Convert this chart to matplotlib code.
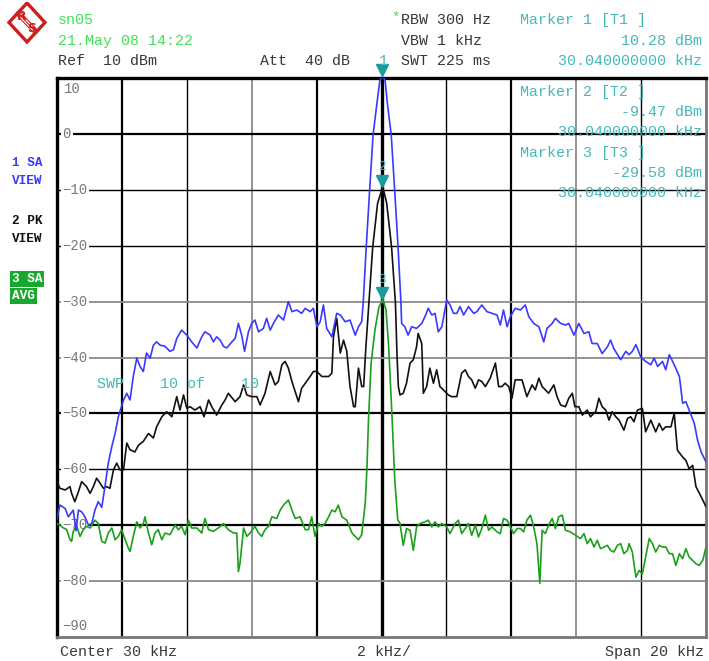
import numpy as np
import matplotlib
matplotlib.use('Agg')
import matplotlib.pyplot as plt
from matplotlib.patches import Polygon
from matplotlib.transforms import offset_copy

# trace 1: SA VIEW (blue)
f_blue = [20.00, 20.09, 20.25, 20.35, 20.50, 20.59, 20.66, 20.76, 20.86, 20.97, 21.07, 21.17,
          21.27, 21.38, 21.48, 21.58, 21.69, 21.79, 21.89, 22.05, 22.15, 22.25, 22.35, 22.46,
          22.56, 22.66, 22.76, 22.87, 22.97, 23.07, 23.18, 23.33, 23.48, 23.59, 23.69, 23.84,
          24.00, 24.15, 24.31, 24.46, 24.56, 24.72, 24.82, 24.92, 25.03, 25.13, 25.23, 25.39,
          25.49, 25.59, 25.69, 25.78, 25.90, 26.00, 26.10, 26.21, 26.36, 26.46, 26.57, 26.67,
          26.82, 26.98, 27.13, 27.24, 27.39, 27.54, 27.65, 27.80, 27.90, 28.01, 28.11, 28.21,
          28.31, 28.47, 28.62, 28.73, 28.88, 29.03, 29.19, 29.29, 29.39,
          29.435, 29.53, 29.635, 29.74, 29.86, 29.95, 30.04, 30.11, 30.18, 30.30, 30.405, 30.51, 30.60,
          30.62, 30.72, 30.82, 30.93, 31.08, 31.24, 31.34, 31.44, 31.55, 31.65, 31.75, 31.86,
          32.01, 32.11, 32.22, 32.32, 32.42, 32.53, 32.68, 32.84, 32.94, 33.09, 33.25, 33.40,
          33.56, 33.66, 33.76, 33.87, 33.97, 34.12, 34.28, 34.43, 34.54, 34.69, 34.85, 35.00,
          35.10, 35.26, 35.36, 35.52, 35.67, 35.77, 35.93, 36.08, 36.24, 36.39, 36.49, 36.65,
          36.80, 36.96, 37.06, 37.16, 37.37, 37.53, 37.63, 37.73, 37.84, 37.99, 38.14, 38.30,
          38.40, 38.51, 38.66, 38.76, 38.87, 39.02, 39.18, 39.28, 39.38, 39.48, 39.64, 39.74,
          39.85, 40.00]
lvl_blue = [-68.8, -66.4, -67.0, -68.5, -67.3, -71.0, -67.3, -67.6, -68.5, -70.0, -69.7, -67.3,
            -65.8, -66.8, -63.0, -58.9, -55.9, -53.6, -50.6, -47.6, -46.4, -47.6, -43.4, -40.1,
            -41.6, -42.5, -39.2, -40.1, -37.8, -37.2, -37.8, -38.0, -38.9, -38.6, -36.6, -35.1,
            -36.0, -37.2, -38.3, -36.3, -35.4, -36.0, -37.2, -36.3, -36.9, -38.0, -38.3, -37.2,
            -36.6, -33.9, -36.0, -38.9, -35.4, -33.9, -33.3, -35.4, -34.8, -33.0, -35.1, -33.9,
            -32.4, -33.3, -30.0, -31.8, -31.5, -32.1, -31.2, -31.8, -31.2, -34.5, -33.6, -30.6,
            -34.8, -36.3, -32.1, -32.4, -33.6, -33.3, -36.0, -34.5, -33.6,
            -30.3, -20.2, -10.0, -0.2, 5.5, 9.6, 10.28, 9.6, 5.5, -0.2, -10.0, -20.2, -30.3,
            -33.9, -34.5, -36.0, -34.5, -34.8, -33.9, -32.7, -31.2, -32.4, -32.1, -35.4, -34.5,
            -29.7, -30.6, -32.1, -32.1, -30.9, -32.4, -30.9, -32.1, -31.8, -30.6, -31.8, -32.1,
            -32.4, -34.2, -31.5, -34.5, -32.7, -31.2, -31.5, -30.6, -32.7, -33.9, -34.5, -37.2,
            -34.8, -33.9, -33.0, -33.9, -34.2, -33.9, -36.0, -33.9, -35.7, -35.4, -37.5, -37.5,
            -39.3, -38.1, -36.9, -38.4, -40.4, -38.9, -39.5, -38.9, -37.7, -39.9, -40.7, -41.3,
            -40.1, -41.6, -40.7, -42.2, -39.5, -41.3, -43.4, -48.2, -47.9, -49.4, -51.8, -54.8,
            -56.9, -58.7]

# trace 2: PK VIEW (black)
f_black = [20.00, 20.09, 20.25, 20.40, 20.45, 20.55, 20.66, 20.76, 20.91, 21.02, 21.12, 21.22,
           21.33, 21.43, 21.53, 21.63, 21.74, 21.84, 21.94, 22.05, 22.15, 22.25, 22.40, 22.51,
           22.66, 22.82, 22.97, 23.07, 23.23, 23.38, 23.54, 23.69, 23.79, 23.90, 24.00, 24.10,
           24.25, 24.41, 24.53, 24.67, 24.77, 24.92, 25.08, 25.18, 25.28, 25.49, 25.64, 25.75,
           25.85, 26.00, 26.16, 26.26, 26.41, 26.57, 26.72, 26.82, 26.93, 27.03, 27.13, 27.24,
           27.34, 27.44, 27.54, 27.65, 27.80, 27.90, 28.01, 28.16, 28.37, 28.47, 28.52, 28.62,
           28.73, 28.83, 28.93, 29.03, 29.14, 29.19, 29.29, 29.39, 29.45,
           29.52, 29.61, 29.73, 29.88, 30.04, 30.16, 30.31, 30.43, 30.48,
           30.52, 30.57, 30.67, 30.77, 30.88, 30.98, 31.08, 31.13, 31.24, 31.29, 31.39, 31.49,
           31.60, 31.70, 31.80, 31.96, 32.06, 32.16, 32.32, 32.47, 32.58, 32.68, 32.78, 32.89,
           32.99, 33.09, 33.20, 33.35, 33.51, 33.61, 33.71, 33.81, 33.92, 34.02, 34.12, 34.23,
           34.33, 34.48, 34.64, 34.74, 34.85, 34.95, 35.05, 35.15, 35.31, 35.41, 35.52, 35.67,
           35.77, 35.88, 35.96, 36.08, 36.19, 36.34, 36.44, 36.60, 36.70, 36.80, 36.91, 37.01,
           37.11, 37.22, 37.32, 37.47, 37.58, 37.68, 37.78, 37.89, 38.04, 38.14, 38.30, 38.45,
           38.56, 38.66, 38.76, 38.92, 39.02, 39.12, 39.28, 39.38, 39.48, 39.59, 39.69, 39.85,
           40.00]
lvl_black = [-62.2, -63.4, -63.7, -63.1, -64.3, -65.8, -64.0, -62.2, -63.1, -64.3, -63.1, -61.6,
             -62.5, -63.4, -63.1, -63.4, -60.1, -58.9, -60.1, -60.1, -55.3, -56.5, -56.9, -55.7,
             -55.0, -53.6, -54.4, -52.4, -50.6, -49.7, -50.6, -47.0, -49.4, -46.7, -49.1, -48.8,
             -49.4, -48.8, -50.6, -47.6, -48.8, -50.3, -48.5, -47.6, -46.4, -47.9, -47.0, -44.9,
             -46.7, -47.0, -47.0, -48.5, -46.4, -42.5, -44.9, -44.3, -41.3, -40.7, -41.9, -44.3,
             -46.1, -47.9, -45.5, -44.6, -43.4, -42.5, -42.5, -43.4, -43.4, -42.8, -36.3, -33.0,
             -39.2, -36.9, -38.9, -45.2, -48.8, -48.8, -41.9, -45.2, -45.2,
             -38.0, -30.3, -20.2, -12.4, -9.47, -12.4, -20.2, -30.3, -40.0,
             -45.2, -46.7, -46.4, -44.6, -41.0, -40.4, -38.1, -35.7, -37.5, -46.4, -45.2, -41.9,
             -44.6, -42.2, -45.2, -46.1, -46.7, -47.0, -47.0, -42.8, -42.2, -43.4, -44.0, -45.5,
             -44.0, -44.3, -45.2, -43.7, -41.0, -45.2, -45.2, -44.6, -45.2, -47.3, -44.0, -44.0,
             -44.0, -47.0, -44.9, -45.8, -43.7, -45.2, -45.8, -46.4, -44.9, -47.0, -48.5, -48.8,
             -47.3, -46.4, -48.8, -48.8, -50.3, -49.4, -50.6, -49.7, -47.3, -48.8, -49.4, -51.2,
             -49.7, -50.6, -51.2, -53.0, -50.9, -50.6, -51.5, -49.4, -49.1, -53.3, -51.2, -53.3,
             -51.8, -53.0, -52.4, -52.4, -50.0, -56.6, -57.8, -58.4, -59.9, -59.3, -63.1, -64.9,
             -66.7]

# trace 3: SA AVG (green)
f_green = [20.00, 20.09, 20.20, 20.30, 20.40, 20.45, 20.50, 20.61, 20.71, 20.81, 20.91, 21.02,
           21.17, 21.27, 21.38, 21.48, 21.58, 21.69, 21.79, 21.89, 21.99, 22.10, 22.20, 22.25,
           22.35, 22.46, 22.56, 22.66, 22.71, 22.82, 22.92, 23.02, 23.12, 23.23, 23.33, 23.48,
           23.64, 23.74, 23.84, 23.95, 24.05, 24.15, 24.31, 24.46, 24.56, 24.67, 24.82, 24.97,
           25.13, 25.28, 25.44, 25.54, 25.59, 25.64, 25.75, 25.85, 25.95, 26.10, 26.21, 26.31,
           26.41, 26.52, 26.62, 26.77, 26.88, 26.98, 27.13, 27.24, 27.34, 27.49, 27.65, 27.75,
           27.85, 27.95, 28.06, 28.16, 28.26, 28.37, 28.47, 28.57, 28.67, 28.78, 28.93, 29.09,
           29.19, 29.29, 29.39,
           29.50, 29.55, 29.60, 29.68, 29.80, 29.92, 30.04, 30.14, 30.22, 30.32, 30.41, 30.50,
           30.57, 30.67, 30.77, 30.88, 30.98, 31.08, 31.19, 31.34, 31.44, 31.55, 31.65, 31.75,
           31.86, 32.01, 32.11, 32.27, 32.37, 32.47, 32.58, 32.68, 32.78, 32.89, 32.99, 33.09,
           33.20, 33.30, 33.40, 33.56, 33.66, 33.76, 33.87, 33.97, 34.07, 34.18, 34.28, 34.38,
           34.48, 34.59, 34.69, 34.79, 34.88, 34.95, 35.05, 35.15, 35.26, 35.36, 35.46, 35.57,
           35.67, 35.82, 35.98, 36.13, 36.24, 36.34, 36.44, 36.55, 36.65, 36.75, 36.86, 36.96,
           37.06, 37.16, 37.27, 37.37, 37.47, 37.58, 37.63, 37.73, 37.84, 37.94, 38.04, 38.14,
           38.25, 38.35, 38.45, 38.56, 38.66, 38.76, 38.87, 38.97, 39.07, 39.18, 39.28, 39.38,
           39.48, 39.59, 39.69, 39.79, 39.90, 40.00]
lvl_green = [-69.7, -70.0, -70.5, -70.8, -72.6, -72.9, -71.1, -70.2, -72.0, -70.8, -70.2, -70.5,
             -69.1, -69.7, -72.9, -73.2, -71.4, -70.5, -72.6, -72.0, -70.8, -72.6, -74.1, -74.7,
             -72.0, -69.4, -70.5, -69.7, -68.5, -71.4, -73.5, -71.4, -70.8, -72.6, -71.4, -71.7,
             -70.0, -70.8, -70.2, -71.7, -69.1, -70.5, -70.5, -71.4, -68.8, -70.8, -71.1, -70.5,
             -69.7, -70.8, -71.4, -71.4, -78.3, -76.8, -70.5, -72.0, -71.4, -70.2, -71.4, -72.0,
             -70.8, -70.2, -68.5, -68.8, -67.3, -66.4, -65.5, -67.3, -68.8, -68.5, -70.8, -70.8,
             -68.5, -72.0, -69.7, -70.2, -69.7, -68.5, -67.3, -67.6, -66.4, -68.5, -69.1, -71.4,
             -72.0, -72.6, -71.7,
             -66.0, -60.0, -51.0, -41.0, -35.0, -31.0, -29.58, -31.5, -38.0, -50.0, -62.0, -69.0,
             -69.7, -73.6, -70.6, -70.9, -74.5, -70.3, -69.7, -69.4, -69.1, -70.3, -69.4, -70.3,
             -69.7, -70.3, -71.5, -69.7, -69.1, -71.5, -70.6, -69.7, -71.8, -70.0, -72.1, -70.6,
             -68.2, -70.9, -70.3, -71.2, -71.5, -68.8, -69.1, -70.3, -71.5, -70.6, -70.6, -71.2,
             -69.1, -68.2, -70.3, -73.3, -80.4, -70.9, -71.5, -70.0, -68.8, -70.6, -68.5, -68.2,
             -70.9, -71.2, -71.8, -72.4, -71.5, -73.3, -72.4, -73.9, -72.7, -74.2, -73.9, -73.6,
             -74.5, -74.8, -73.6, -73.3, -75.1, -74.5, -73.3, -74.8, -79.3, -78.1, -78.7, -75.7,
             -72.4, -73.3, -74.8, -73.6, -73.9, -73.9, -75.1, -75.1, -77.2, -75.1, -76.0, -74.2,
             -75.7, -76.3, -76.9, -77.2, -76.3, -73.9]

marker_freq = 30.04
marker_lvl = [10.28, -9.47, -29.58]
y_ticks = [0, -10, -20, -30, -40, -50, -60, -70, -80]

W, H = 709, 661
MONO = 'Liberation Mono'
TEAL = '#45b8b8'
GREEN_TXT = '#44e05a'
DARK = '#383838'

fig = plt.figure(figsize=(W / 100, H / 100), dpi=100)
fig.patch.set_facecolor('white')


def ftext(x, y, s, **kw):
    kw.setdefault('family', MONO)
    kw.setdefault('fontsize', 10.8)
    kw.setdefault('va', 'center')
    return fig.text(x / W, 1 - y / H, s, **kw)


ax = fig.add_axes([57 / W, 1 - 637 / H, 649 / W, 559 / H])
ax.set_xlim(20, 40)
ax.set_ylim(-90, 10)
ax.set_xticks([])
ax.set_yticks([])

# grid, drawn with the uneven weights seen on the analyser screen
vgrid = [(22, 'k', 1.6), (24, 'k', 1.0), (26, '#8a8a8a', 1.3), (28, 'k', 1.6),
         (30, 'k', 2.4), (32, 'k', 1.0), (34, 'k', 1.6), (36, '#8a8a8a', 1.3), (38, 'k', 1.0)]
hgrid = [(0, 'k', 1.6), (-10, 'k', 1.0), (-20, 'k', 1.0), (-30, '#8a8a8a', 1.3),
         (-40, '#8a8a8a', 1.3), (-50, 'k', 1.6), (-60, 'k', 1.0), (-70, 'k', 1.6),
         (-80, '#8a8a8a', 1.3)]
for x, c, lw in vgrid:
    ax.axvline(x, color=c, lw=lw, zorder=1)
for y, c, lw in hgrid:
    ax.axhline(y, color=c, lw=lw, zorder=1)

for sp in ['top', 'left']:
    ax.spines[sp].set_linewidth(2.4)
    ax.spines[sp].set_color('k')
for sp in ['bottom', 'right']:
    ax.spines[sp].set_linewidth(2.0)
    ax.spines[sp].set_color('#777777')

# level labels inside the graticule
ax.text(20.2, 8.0, '10', family=MONO, fontsize=10, color='#777777', va='center', zorder=3)
ax.text(20.17, -88.0, '\u221290', family=MONO, fontsize=10, color='#777777', va='center', zorder=3)
for v in y_ticks:
    lab = str(v).replace('-', '\u2212')
    ax.text(20.17, v, lab, family=MONO, fontsize=10, color='#777777', va='center', zorder=3,
            bbox=dict(boxstyle='square,pad=0.12', fc='white', ec='none'))

ax.plot(f_green, lvl_green, color='#1aa01a', lw=1.2, zorder=4)
ax.plot(f_black, lvl_black, color='#111111', lw=1.2, zorder=5)
ax.plot(f_blue, lvl_blue, color='#3a3aff', lw=1.2, zorder=6)

# marker triangles
tri_tr = offset_copy(ax.transData, fig=fig, x=0, y=4.5, units='points')
lab_tr = offset_copy(ax.transData, fig=fig, x=0, y=14, units='points')
for i, lv in enumerate(marker_lvl):
    ax.plot([marker_freq - 0.04], [lv], marker='v', ms=8, color='#1a9a9a', ls='none',
            transform=tri_tr, clip_on=False, zorder=8)
    if i > 0:
        ax.text(marker_freq - 0.04, lv, str(i + 1), transform=lab_tr, family=MONO,
                fontsize=9, color=TEAL, ha='center', va='center', zorder=8)

# header
ftext(58, 20, 'sn05', color=GREEN_TXT)
ftext(58, 41, '21.May 08 14:22', color=GREEN_TXT)
ftext(58, 61, 'Ref  10 dBm', color=DARK)
ftext(260, 61, 'Att  40 dB', color=DARK)
ftext(391, 18, '*', color=GREEN_TXT, fontsize=10)
ftext(401, 20, 'RBW 300 Hz', color=DARK)
ftext(401, 41, 'VBW 1 kHz', color=DARK)
ftext(379, 61, '1', color=TEAL)
ftext(401, 61, 'SWT 225 ms', color=DARK)
ftext(520, 20, 'Marker 1 [T1 ]', color=TEAL)
ftext(702, 41, '10.28 dBm', color=TEAL, ha='right')
ftext(702, 61, '30.040000000 kHz', color=TEAL, ha='right')

# marker readouts inside the graticule
ftext(520, 92, 'Marker 2 [T2 ]', color=TEAL, zorder=9)
ftext(702, 112, '-9.47 dBm', color=TEAL, ha='right', zorder=9)
ftext(702, 132, '30.040000000 kHz', color=TEAL, ha='right', zorder=9)
ftext(520, 153, 'Marker 3 [T3 ]', color=TEAL, zorder=9)
ftext(702, 173, '-29.58 dBm', color=TEAL, ha='right', zorder=9)
ftext(702, 193, '30.040000000 kHz', color=TEAL, ha='right', zorder=9)
ftext(97, 384, 'SWP    10 of    10', color=TEAL, zorder=9)

# trace labels on the left
ftext(12, 163, '1 SA', color='#3a3aff', fontsize=9.2, weight='bold')
ftext(12, 181, 'VIEW', color='#3a3aff', fontsize=9.2, weight='bold')
ftext(12, 221, '2 PK', color='#111111', fontsize=9.2, weight='bold')
ftext(12, 239, 'VIEW', color='#111111', fontsize=9.2, weight='bold')
ftext(12, 279, '3 SA', color='white', fontsize=9.2, weight='bold',
      bbox=dict(boxstyle='square,pad=0.15', fc='#18a830', ec='none'))
ftext(12, 296, 'AVG', color='white', fontsize=9.2, weight='bold',
      bbox=dict(boxstyle='square,pad=0.15', fc='#18a830', ec='none'))

# footer
ftext(60, 652, 'Center 30 kHz', color=DARK)
ftext(384, 652, '2 kHz/', color=DARK, ha='center')
ftext(704, 652, 'Span 20 kHz', color=DARK, ha='right')

# R&S logo
lax = fig.add_axes([6 / W, 1 - 46 / H, 42 / W, 44 / H])
lax.set_xlim(6, 48)
lax.set_ylim(46, 2)
lax.axis('off')
red = '#cc2020'
lax.add_patch(Polygon([(27, 3), (45, 22.5), (27, 42), (9, 22.5)], closed=True,
                      fc='white', ec=red, lw=2.4))
for d in (-1.6, 0, 1.6):
    lax.plot([17 + d, 37 + d], [12 - d, 33 - d], color=red, lw=0.8)
lax.text(21.5, 17, 'R', color=red, fontsize=9, family='DejaVu Sans', weight='bold',
         ha='center', va='center')
lax.text(31.5, 29, 'S', color=red, fontsize=9, family='DejaVu Sans', weight='bold',
         ha='center', va='center')

fig.savefig('out.png', dpi=100, facecolor='white')
